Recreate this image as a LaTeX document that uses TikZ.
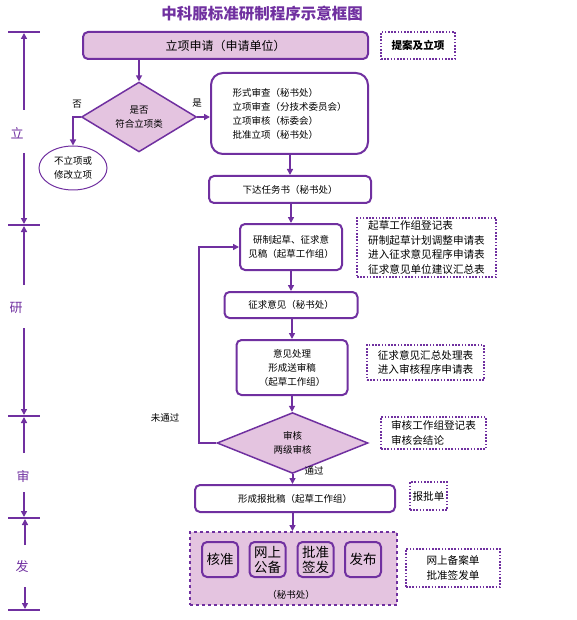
\documentclass[tikz,border=0pt]{standalone}
\usepackage{fontspec}
\setmainfont{Noto Sans CJK SC}
\usepackage{xcolor}
\usepackage{tikz}
\usetikzlibrary{shapes,arrows,positioning,calc,arrows.meta}

\definecolor{zpurple}{RGB}{112,48,160}
\definecolor{zfill}{RGB}{228,196,224}

\begin{document}
\begin{tikzpicture}[x=1pt,y=-1pt,
    box/.style={draw=zpurple, line width=2pt, rounded corners=5pt, fill=white, align=center, inner sep=0pt, font=\fontsize{9.5}{14}\selectfont},
    dbox/.style={draw=zpurple, line width=1.5pt, fill=zfill, shape=diamond, inner sep=0pt, align=center, font=\fontsize{9.5}{14}\selectfont},
    note/.style={draw=zpurple, line width=1.6pt, dash pattern=on 1.6pt off 1.6pt, align=left, inner sep=0pt, font=\fontsize{10.6}{14.5}\selectfont},
    unit/.style={draw=zpurple, line width=2pt, rounded corners=5pt, fill=zfill, align=center, inner sep=0pt, minimum width=36pt, minimum height=35pt, font=\fontsize{13.5}{15}\selectfont},
    lbl/.style={font=\fontsize{9.5}{12}\selectfont},
    axlbl/.style={text=zpurple, font=\fontsize{13}{15}\selectfont},
    arr/.style={draw=zpurple, line width=2pt, -{Triangle[length=6pt,width=6pt]}},
    axis/.style={draw=zpurple, line width=2pt}]
    \useasboundingbox (0,0) rectangle (577,620);

    % title
    \node[text=zpurple, font=\fontsize{15.5}{18}\selectfont\bfseries] (title) at (262,14) {中科服标准研制程序示意框图};

    % stage 1
    \node[box, fill=zfill, font=\fontsize{12}{14}\selectfont, minimum width=285pt, minimum height=27pt] (apply) at (225.5,45.5) {立项申请（申请单位）};
    \node[note, minimum width=74pt, minimum height=27pt, align=center, font=\fontsize{10.6}{14}\selectfont\bfseries] (n1) at (418,45.5) {提案及立项};
    \node[dbox, minimum width=115pt, minimum height=58pt] (q1) at (139,117) {是否\\符合立项类};
    \node[draw=zpurple, line width=1pt, ellipse, minimum width=68pt, minimum height=44pt, inner sep=0pt, align=center, font=\fontsize{9.5}{14}\selectfont] (reject) at (73,168) {不立项或\\修改立项};
    \node[box, rounded corners=12pt, minimum width=157pt, minimum height=81pt, align=left] (review) at (289.5,113.5) {形式审查（秘书处）\\立项审查（分技术委员会）\\立项审核（标委会）\\批准立项（秘书处）};
    \node[box, minimum width=162pt, minimum height=27pt] (task) at (290,189.5) {下达任务书（秘书处）};
    \node[lbl] (no) at (77,104) {否};
    \node[lbl] (yes) at (197,103) {是};

    % stage 2
    \node[box, minimum width=102pt, minimum height=46pt] (draft) at (291,247) {研制起草、征求意\\见稿（起草工作组）};
    \node[note, minimum width=139pt, minimum height=59pt] (n2) at (426.5,247.5) {起草工作组登记表\\研制起草计划调整申请表\\进入征求意见程序申请表\\征求意见单位建议汇总表};
    \node[box, minimum width=133pt, minimum height=26pt] (consult) at (291,305) {征求意见（秘书处）};
    \node[box, minimum width=111pt, minimum height=55pt] (handle) at (292,367.5) {意见处理\\形成送审稿\\（起草工作组）};
    \node[note, minimum width=117pt, minimum height=35pt] (n3) at (425.5,362.5) {征求意见汇总处理表\\进入审核程序申请表};

    % stage 3
    \node[dbox, minimum width=151pt, minimum height=46pt] (q2) at (292.5,443) {审核\\两级审核};
    \node[note, minimum width=105pt, minimum height=32pt] (n4) at (433.5,433) {审核工作组登记表\\审核会结论};
    \coordinate (back) at (199,443);
    \node[lbl] (fail) at (165,418) {未通过};
    \node[lbl] (pass) at (314,471) {通过};
    \node[box, minimum width=200pt, minimum height=27pt] (approve) at (295,498.5) {形成报批稿（起草工作组）};
    \node[note, minimum width=37pt, minimum height=28pt] (n5) at (428.5,496) {报批单};

    % stage 4
    \node[draw=zpurple, line width=2pt, dashed, fill=zfill, minimum width=207pt, minimum height=73pt] (issue) at (293.5,568.5) {};
    \node[unit] (u1) at (220,559.5) {核准};
    \node[unit] (u2) at (267.5,559.5) {网上\\公备};
    \node[unit] (u3) at (315.5,559.5) {批准\\签发};
    \node[unit] (u4) at (363,559.5) {发布};
    \node[lbl] (sec) at (291,595) {（秘书处）};
    \node[note, minimum width=94pt, minimum height=38pt] (n6) at (453,568) {网上备案单\\批准签发单};

    % connectors
    \draw[arr] (apply.south -| q1.north) -- (q1.north);
    \draw[arr] (q1.west) -| (reject.north);
    \draw[arr] (q1.east) -- (q1.east -| review.west);
    \draw[arr] (review.south -| task.north) -- (task.north);
    \draw[arr] (task.south -| draft.north) -- (draft.north);
    \draw[arr] (draft.south) -- (draft.south |- consult.north);
    \draw[arr] (consult.south -| handle.north) -- (handle.north);
    \draw[arr] (handle.south) -- (handle.south |- q2.north);
    \draw[arr] (q2.west) -- (back) |- (draft.west);
    \draw[arr] (q2.south) -- (q2.south |- approve.north);
    \draw[arr] (approve.south -| q2.south) -- (q2.south |- issue.north);

    % stage axis
    \foreach \y in {32,225,416,518,610}
        \draw[axis] (8,\y) -- (40,\y);
    \node[axlbl] (s1) at (17,133) {立};
    \node[axlbl] (s2) at (16,308) {研};
    \node[axlbl] (s3) at (23,476) {审};
    \node[axlbl] (s4) at (22,567) {发};
    \draw[arr] (24,110) -- (24,33);
    \draw[arr] (24,153) -- (24,224);
    \draw[arr] (24,285) -- (24,226);
    \draw[arr] (24,328) -- (24,415);
    \draw[arr] (24,453) -- (24,417);
    \draw[arr] (24,492) -- (24,517);
    \draw[arr] (25,545) -- (25,519);
    \draw[arr] (25,587) -- (25,609);
\end{tikzpicture}
\end{document}
